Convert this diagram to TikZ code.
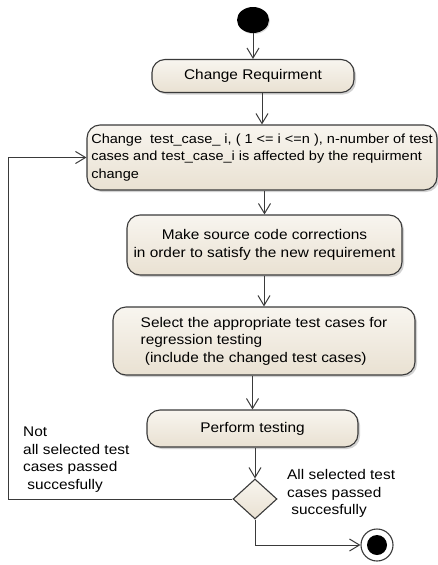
\documentclass[tikz,border=0pt]{standalone}
\usepackage{fontspec}
\setmainfont{Liberation Sans}[FakeStretch=1.1]
\usepackage{tikz}
\usetikzlibrary{arrows.meta,shapes.geometric,shadows}
\definecolor{adtop}{HTML}{F8F5EF}
\definecolor{adbot}{HTML}{E9E1D2}
\definecolor{adline}{HTML}{3A3A3A}
\newcommand{\adfont}{\fontsize{14}{17.5}\selectfont}
\tikzset{
 ad action/.style={rectangle,rounded corners=13pt,draw=adline,line width=1.1pt,
                   top color=adtop,bottom color=adbot,font=\adfont,
                   drop shadow={shadow xshift=2pt,shadow yshift=-2pt,fill=black!35}},
 ad decision/.style={diamond,draw=adline,line width=1.1pt,top color=adtop,
                     bottom color=adbot,minimum width=44pt,minimum height=40pt,
                     inner sep=0pt},
 ad start/.style={ellipse,fill=black,minimum width=32pt,minimum height=26pt,
                  inner sep=0pt,drop shadow={shadow xshift=1pt,shadow yshift=-1pt,fill=black!30}},
 ad final/.style={circle,draw=adline,line width=1.1pt,fill=white,minimum size=32pt,
                  inner sep=0pt,
                  path picture={\fill[black] (path picture bounding box.center) circle (10pt);}},
 ad flow/.style={draw=adline,line width=1pt,-{Straight Barb[length=10pt,width=12pt]}},
 ad guard/.style={font=\adfont,align=left,inner sep=0pt,anchor=west}
}

\begin{document}
\begin{tikzpicture}[x=1pt,y=-1pt]
 \useasboundingbox (0,0) rectangle (438,565);
 \node[ad start] (start) at (253,20) {};
 \node[ad action,minimum width=202pt,minimum height=33pt] (req) at (253,76)
   {Change Requirment};
 \node[ad action,minimum width=350pt,minimum height=65pt,align=left,
       inner xsep=4pt,font=\fontsize{13.2}{17.5}\selectfont] (chg) at (262,157.5)
   {Change\ \ test\_case\_ i, ( 1 <= i <=n ), n-number of test\\
    cases and test\_case\_i is affected by the requirment\\
    change};
 \node[ad action,minimum width=275pt,minimum height=60pt,align=center] (fix) at (264.5,245)
   {Make source code corrections\\in order to satisfy the new requirement};
 \node[ad action,minimum width=302pt,minimum height=68pt,align=left] (sel) at (264,341)
   {Select the appropriate test cases for\\
    regression testing\\
    \hspace{0.3em}(include the changed test cases)};
 \node[ad action,minimum width=211pt,minimum height=37pt] (run) at (252.5,428.5)
   {Perform testing};
 \node[ad decision] (dec) at (255,499) {};
 \node[ad final] (end) at (377,545) {};
 \coordinate (back) at (8,499);

 % main flow
 \foreach \a/\b in {start/req,req/chg,chg/fix,fix/sel,sel/run,run/dec}
   \draw[ad flow] (\a.south -| \b) -- (\b.north);
 \draw[ad flow] (dec.west) -- (back) |- (chg.west);
 \draw[ad flow] (dec.south) |- (end.west);

 \node[ad guard] (nok) at (23,459.5)
   {Not\\all selected test\\cases passed\\\hspace{0.3em}succesfully};
 \node[ad guard] (ok) at (287,493.5)
   {All selected test\\cases passed\\\hspace{0.3em}succesfully};
\end{tikzpicture}
\end{document}
